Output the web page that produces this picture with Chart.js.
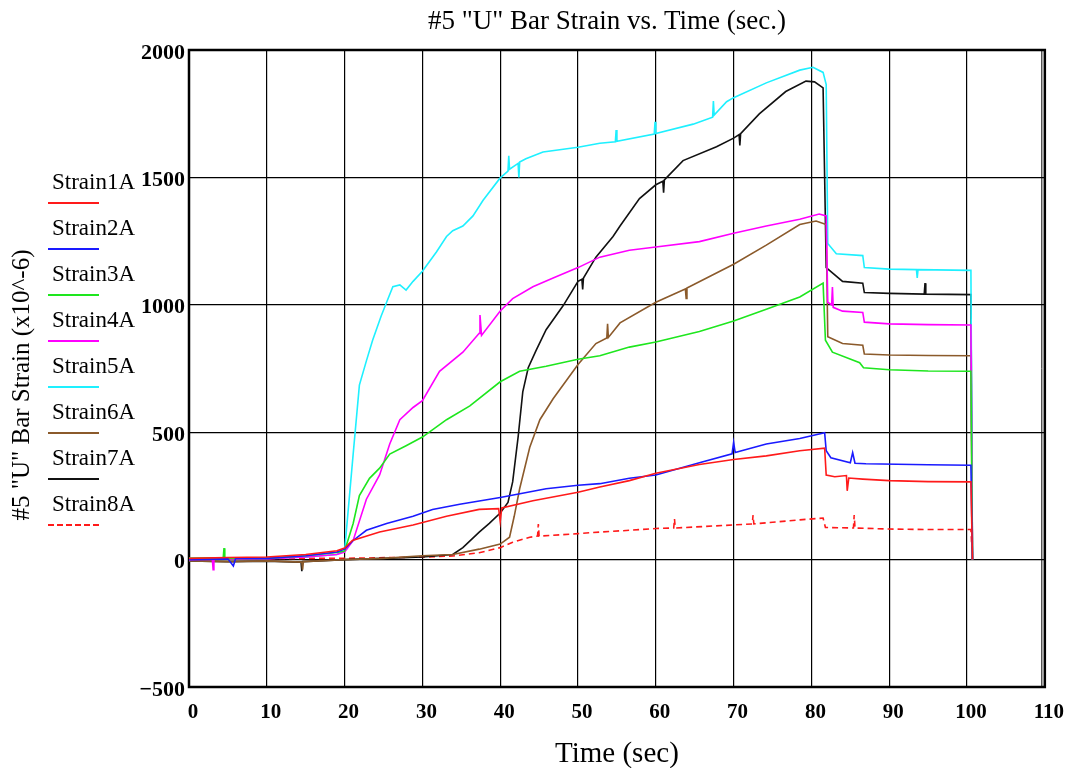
<!DOCTYPE html>
<html>
<head>
<meta charset="utf-8">
<title>#5 "U" Bar Strain vs. Time</title>
<script src="https://cdn.jsdelivr.net/npm/chart.js@4.4.1/dist/chart.umd.min.js"></script>
<style>
  html, body { margin: 0; padding: 0; background: #fff; }
  #wrap { position: relative; width: 1073px; height: 768px; overflow: hidden; }
  #chartTitle {
    position: absolute; left: 357px; top: 7px; width: 500px;
    text-align: center; font: 27px/27px "Liberation Serif", "Times New Roman", serif; color: #000;
  }
  #yTitle {
    position: absolute; left: 21px; top: 385px; width: 300px; margin-left: -150px; margin-top: -14px;
    text-align: center; white-space: nowrap; transform: rotate(-90deg);
    font: 25px/28px "Liberation Serif", "Times New Roman", serif; color: #000;
  }
  .leg-text {
    position: absolute; left: 52px; font: 23px/24px "Liberation Serif", "Times New Roman", serif; color: #000;
  }
  .leg-line { position: absolute; left: 48px; width: 51px; height: 0; }
</style>
</head>
<body>
<div id="wrap">
  <canvas id="strainChart" width="1073" height="768"></canvas>
  <div id="chartTitle">#5 "U" Bar Strain vs. Time (sec.)</div>
  <div id="yTitle">#5 "U" Bar Strain (x10^-6)</div>
  <div id="legend"></div>
</div>
<script>
// axis ticks
const xTicks = [0, 10, 20, 30, 40, 50, 60, 70, 80, 90, 100, 110];
const yTicks = [-500, 0, 500, 1000, 1500, 2000];

const seriesNames = ['Strain1A', 'Strain2A', 'Strain3A', 'Strain4A', 'Strain5A', 'Strain6A', 'Strain7A', 'Strain8A'];
const seriesColors = ['#ff1a1a', '#1a1aff', '#1ee61e', '#ff00ff', '#1ef0ff', '#8b5a2b', '#111111', '#ff1a1a'];

// [time (sec), strain (x10^-6)]
const strain1A = [[0,5],[5,8],[10,10],[15,20],[19,35],[20,45],[21,75],[24.5,108],[28.8,136],[33.1,170],[37.3,197],[39.8,200],[40,150],[40.2,203],[44.2,231],[50,264],[52.8,285],[56.6,310],[60,339],[65.6,373],[70,393],[74.2,407],[78.5,427],[81.7,437],[81.9,332],[83,325],[84.5,330],[84.6,270],[84.8,320],[86.6,316],[90,310],[95,306],[100.5,305],[100.7,0]];
const strain2A = [[0,0],[5,3],[5.7,-25],[6,5],[10,5],[15,15],[19,30],[20,41],[21.1,75],[22.8,115],[25.4,142],[28.8,170],[31.3,197],[34.8,217],[40,244],[45.9,278],[50,292],[52.8,298],[56.6,319],[60,332],[65.6,380],[69.8,415],[70,460],[70.2,420],[74.2,454],[78.5,475],[81.7,498],[81.9,427],[82.5,400],[85,380],[85.3,420],[85.6,378],[87,376],[95,372],[100.5,370],[100.7,0]];
const strain3A = [[0,5],[4.4,8],[4.5,45],[4.6,5],[10,5],[15,15],[19,28],[20,34],[21.1,142],[21.9,251],[23.2,319],[24.5,359],[25.8,414],[27.9,447],[30,481],[33.1,549],[36.1,603],[40,698],[42.5,739],[45.9,759],[50,786],[52.8,800],[56.6,834],[60,854],[65.6,895],[70,936],[74.2,983],[78.5,1031],[81.5,1085],[81.8,861],[82.7,814],[86.2,773],[86.7,753],[90,745],[95,740],[100.5,739],[100.7,0]];
const strain4A = [[0,0],[3,2],[3.1,-40],[3.2,2],[10,3],[15,10],[19,20],[20,30],[21.1,75],[22.8,237],[24.5,332],[25.8,454],[27.1,549],[28.8,597],[30,624],[32.2,739],[35.2,814],[37.3,888],[37.4,960],[37.6,880],[40,976],[41.6,1024],[44.2,1071],[46.8,1105],[50,1146],[52.8,1187],[56.6,1214],[60,1227],[65.6,1248],[70,1281],[74.2,1309],[78.5,1336],[81,1356],[81.9,1349],[82.1,1010],[82.6,1000],[82.7,1070],[82.8,990],[84,975],[86.6,970],[86.8,932],[90,925],[95,922],[100.5,921],[100.7,0]];
const strain5A = [[0,5],[10,5],[15,10],[19,20],[20,34],[21.1,414],[21.9,685],[22.8,780],[23.6,861],[24.7,956],[25.4,1010],[26.2,1071],[27.1,1078],[27.9,1058],[28.8,1092],[30,1132],[31.8,1207],[33.1,1268],[33.9,1291],[35.2,1309],[36.5,1349],[37.8,1410],[40,1498],[41,1525],[41.1,1585],[41.2,1532],[42.3,1555],[42.4,1500],[42.5,1560],[43.3,1573],[45.5,1600],[50,1618],[52.8,1634],[54.8,1640],[54.9,1686],[55,1642],[59.8,1670],[59.9,1718],[60,1672],[64.8,1709],[67.3,1736],[67.4,1800],[67.5,1745],[69.1,1797],[70,1813],[74.2,1871],[78.5,1921],[80.2,1932],[81.5,1912],[81.9,1864],[82.1,1241],[83.2,1200],[86.6,1193],[86.8,1146],[90,1140],[93.5,1138],[93.6,1105],[93.7,1138],[100.5,1135],[100.7,0]];
const strain6A = [[0,-5],[5,-8],[10,-5],[14.5,-10],[14.6,-40],[14.7,-8],[20,0],[25,5],[30,15],[33.9,20],[37.3,41],[40,61],[41.2,88],[41.8,170],[42.5,278],[43.8,441],[45.1,549],[46.8,631],[50,766],[52.3,848],[53.7,870],[53.8,925],[53.9,872],[55.4,929],[60,1010],[63.5,1058],[63.8,1062],[63.9,1025],[64,1066],[70,1159],[74.2,1234],[78.5,1315],[80.6,1329],[81.9,1315],[82.1,875],[84,848],[86.6,841],[86.8,807],[90,803],[95,801],[100.5,800],[100.7,0]];
const strain7A = [[0,-5],[5,-8],[10,-6],[14.4,-10],[14.5,-45],[14.6,-8],[20,0],[25,5],[30,10],[33.9,20],[35.2,47],[37.3,108],[38.6,142],[40,183],[41,224],[41.6,305],[42.3,481],[42.9,658],[43.6,753],[44.6,820],[45.9,902],[48.1,997],[50,1092],[50.5,1100],[50.6,1060],[50.7,1105],[52.3,1187],[54.5,1268],[55.4,1309],[57.9,1417],[60,1471],[60.9,1485],[61,1440],[61.1,1490],[63.5,1566],[67.8,1620],[70,1654],[70.7,1668],[70.8,1625],[70.9,1672],[73.3,1749],[76.7,1837],[79.3,1878],[80.4,1875],[81.5,1851],[81.9,1146],[84,1092],[86.6,1085],[86.8,1048],[90,1045],[94.5,1042],[94.6,1085],[94.7,1042],[100.5,1040],[100.7,0]];
const strain8A = [[0,3],[10,5],[20,5],[30,10],[33.9,14],[37.3,27],[40,47],[41.6,68],[43.8,88],[44.8,92],[44.9,140],[45,92],[50,102],[52.8,108],[56.6,115],[60,122],[62.3,124],[62.4,160],[62.5,124],[70,136],[72.4,140],[72.5,175],[72.6,140],[78.5,156],[81.5,163],[81.8,126],[85.4,124],[85.5,175],[85.6,124],[90,120],[95,118],[100.5,118],[100.7,0]];

const seriesData = [strain1A, strain2A, strain3A, strain4A, strain5A, strain6A, strain7A, strain8A];

const serif = '"Liberation Serif", "Times New Roman", serif';

// frame around the plot area, drawn under the traces
const framePlugin = {
  id: 'frame',
  beforeDatasetsDraw(chart) {
    const a = chart.chartArea;
    const ctx = chart.ctx;
    ctx.save();
    ctx.strokeStyle = '#000';
    ctx.lineWidth = 2.5;
    ctx.strokeRect(a.left, a.top, a.right - a.left, a.bottom - a.top);
    ctx.lineWidth = 1;
    ctx.beginPath();
    ctx.moveTo(a.right - 3, a.top);
    ctx.lineTo(a.right - 3, a.bottom);
    ctx.stroke();
    ctx.restore();
  }
};

function createStrainChart() {
  const ctx = document.getElementById('strainChart').getContext('2d');

  const datasets = seriesNames.map((name, i) => ({
    label: name,
    data: seriesData[i],
    borderColor: seriesColors[i],
    backgroundColor: seriesColors[i],
    borderWidth: 1.6,
    borderDash: name === 'Strain8A' ? [6, 4] : [],
    pointRadius: 0,
    tension: 0,
    fill: false
  }));

  new Chart(ctx, {
    type: 'line',
    data: { datasets: datasets },
    options: {
      responsive: false,
      animation: false,
      devicePixelRatio: 1,
      layout: { padding: { left: 0, top: 50, right: 26, bottom: 0 } },
      plugins: {
        legend: { display: false },
        tooltip: { enabled: false }
      },
      scales: {
        x: {
          type: 'linear',
          min: xTicks[0],
          max: xTicks[xTicks.length - 1],
          afterBuildTicks: (scale) => { scale.ticks = xTicks.map(v => ({ value: v })); },
          afterFit: (scale) => { scale.height = 81; },
          border: { display: false },
          grid: { color: '#000', lineWidth: 1.2, drawTicks: false },
          ticks: {
            color: '#000',
            padding: 13,
            labelOffset: 4,
            maxRotation: 0,
            font: { family: serif, size: 21, weight: 'bold' }
          },
          title: {
            display: true,
            text: 'Time (sec)',
            color: '#000',
            padding: { top: 0, bottom: -4 },
            font: { family: serif, size: 29 }
          }
        },
        y: {
          min: yTicks[0],
          max: yTicks[yTicks.length - 1],
          afterBuildTicks: (scale) => { scale.ticks = yTicks.map(v => ({ value: v })); },
          afterFit: (scale) => { scale.width = 189; },
          border: { display: false },
          grid: { color: '#000', lineWidth: 1.2, drawTicks: false },
          ticks: {
            color: '#000',
            padding: 4,
            labelOffset: 3,
            font: { family: serif, size: 22, weight: 'bold' },
            callback: (v) => v < 0 ? '\u2212' + Math.abs(v) : String(v)
          }
        }
      }
    },
    plugins: [framePlugin]
  });

  createLegend(datasets);
}

function createLegend(datasets) {
  const legend = document.getElementById('legend');
  datasets.map((ds, i) => {
    const text = document.createElement('div');
    const line = document.createElement('div');

    text.className = 'leg-text';
    text.textContent = ds.label;
    text.style.top = (170 + i * 46) + 'px';

    line.className = 'leg-line';
    line.style.top = (202 + i * 46) + 'px';
    line.style.borderTop = '2px ' + (ds.borderDash.length ? 'dashed ' : 'solid ') + ds.borderColor;

    legend.appendChild(text);
    legend.appendChild(line);
  });
}

createStrainChart();
</script>
</body>
</html>
